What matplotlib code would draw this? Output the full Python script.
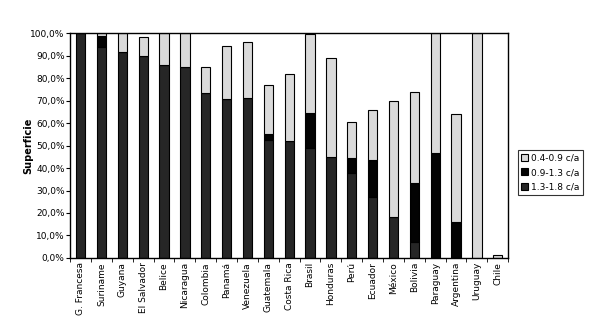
import matplotlib.pyplot as plt
import numpy as np
from matplotlib.ticker import FuncFormatter

paises = ['G. Francesa', 'Suriname', 'Guyana', 'El Salvador', 'Belice', 'Nicaragua',
          'Colombia', 'Panamá', 'Venezuela', 'Guatemala', 'Costa Rica', 'Brasil',
          'Honduras', 'Perú', 'Ecuador', 'México', 'Bolivia', 'Paraguay',
          'Argentina', 'Uruguay', 'Chile']

# % de superficie por clase de crecimiento (c/a)
c13_18 = [100, 94, 91.5, 90, 86, 85, 73.5, 70.5, 71, 52.5, 52, 49, 45, 38, 27, 18, 7, 0, 0, 0, 0]
c09_13 = [0, 4.8, 0, 0, 0, 0, 0, 0, 0, 2.5, 0, 15.5, 0, 6.5, 16.5, 0, 26.5, 46.5, 16, 0, 0]
c04_09 = [0, 1.2, 8.5, 8.5, 14, 15, 11.5, 24, 25, 22, 30, 35, 44, 16, 22.5, 52, 40.5, 53.5, 48, 100, 1.5]

x = np.arange(len(paises))
w = 0.45
a = np.array(c13_18)
b = np.array(c09_13)
c = np.array(c04_09)

fig = plt.figure(figsize=(6, 3.35), dpi=100)
ax = fig.add_axes([0.117, 0.23, 0.73, 0.671])

p1 = ax.bar(x, a, w, color='#262626', edgecolor='black', linewidth=0.8, label='1.3-1.8 c/a')
p2 = ax.bar(x, b, w, bottom=a, color='#030303', edgecolor='black', linewidth=0.8, label='0.9-1.3 c/a')
p3 = ax.bar(x, c, w, bottom=a + b, color='#dadada', edgecolor='black', linewidth=0.8, label='0.4-0.9 c/a')

ax.set_xlim(-0.5, len(paises) - 0.5)
ax.set_ylim(0, 100)
ax.set_yticks(np.arange(0, 101, 10))
ax.yaxis.set_major_formatter(FuncFormatter(lambda v, p: ('%.1f%%' % v).replace('.', ',')))
ax.set_xticks(x)
ax.set_xticklabels(paises, rotation=90, fontsize=6.5)
ax.tick_params(axis='x', length=0, pad=3)
ax.set_xticks(np.arange(-0.5, len(paises)), minor=True)
ax.tick_params(axis='x', which='minor', length=3, direction='out')
ax.tick_params(axis='y', labelsize=6.5, length=3, pad=1)
ax.set_ylabel('Superficie', fontsize=7, fontweight='bold', labelpad=-2)
ax.yaxis.set_label_coords(-0.085, 0.5)
for s in ax.spines.values():
    s.set_linewidth(1.0)

leg = fig.legend(handles=[p3, p2, p1], loc='center left', bbox_to_anchor=(0.855, 0.485),
                 fontsize=6.5, frameon=True, fancybox=False, edgecolor='black',
                 handlelength=0.8, handleheight=0.8, handletextpad=0.3, borderpad=0.4,
                 labelspacing=0.6)
leg.get_frame().set_linewidth(0.8)

fig.savefig('out.png', dpi=100)
